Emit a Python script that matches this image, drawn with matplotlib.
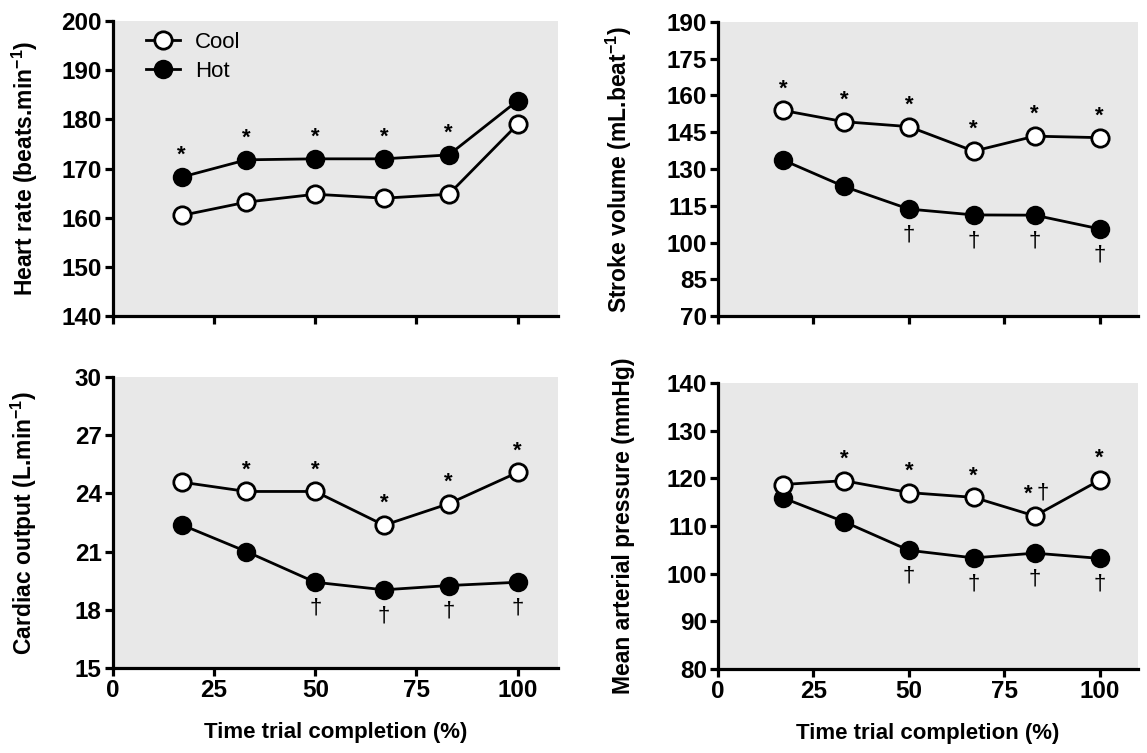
import matplotlib
matplotlib.use("Agg")
import matplotlib.pyplot as plt
import numpy as np

plt.rcParams['font.family'] = ['Liberation Sans', 'DejaVu Sans']
plt.rcParams['mathtext.fontset'] = 'custom'
plt.rcParams['mathtext.rm'] = 'Liberation Sans:bold'
plt.rcParams['mathtext.bf'] = 'Liberation Sans:bold'

# time trial completion (%)
x = [17, 33, 50, 67, 83, 100]

hr_cool = [160.5, 163.2, 164.8, 164.0, 164.8, 179.0]
hr_hot = [168.3, 171.8, 172.0, 172.0, 172.8, 183.8]

sv_cool = [153.9, 149.3, 147.3, 137.3, 143.4, 142.8]
sv_hot = [133.7, 122.9, 113.7, 111.3, 111.2, 105.6]

co_cool = [24.58, 24.1, 24.1, 22.36, 23.47, 25.08]
co_hot = [22.38, 21.0, 19.42, 19.03, 19.25, 19.42]

map_cool = [118.7, 119.5, 117.0, 116.0, 112.1, 119.6]
map_hot = [115.9, 110.9, 104.9, 103.3, 104.3, 103.2]

panels = [
    dict(cool=hr_cool, hot=hr_hot, ylim=(140, 200), yticks=np.arange(140, 201, 10),
         ylabel=r'Heart rate (beats.min$^{-1}$)', labx=-0.164,
         star_cool=[], star_hot=[0, 1, 2, 3, 4], dagger=[], pos=[0.0985, 0.580, 0.388, 0.392]),
    dict(cool=sv_cool, hot=sv_hot, ylim=(70, 190), yticks=np.arange(70, 191, 15),
         ylabel=r'Stroke volume (mL.beat$^{-1}$)', labx=-0.2,
         star_cool=[0, 1, 2, 3, 4, 5], star_hot=[], dagger=[2, 3, 4, 5], pos=[0.626, 0.580, 0.366, 0.391]),
    dict(cool=co_cool, hot=co_hot, ylim=(15, 30), yticks=np.arange(15, 31, 3),
         ylabel=r'Cardiac output (L.min$^{-1}$)', labx=-0.166,
         star_cool=[1, 2, 3, 4, 5], star_hot=[], dagger=[2, 3, 4, 5], pos=[0.0985, 0.1129, 0.388, 0.3864]),
    dict(cool=map_cool, hot=map_hot, ylim=(80, 140), yticks=np.arange(80, 141, 10),
         ylabel='Mean arterial pressure (mmHg)', labx=-0.198,
         star_cool=[1, 2, 3, 5], star_hot=[], dagger=[2, 3, 4, 5], pos=[0.626, 0.1116, 0.366, 0.3798]),
]
# extra "* †" mark above the cool point at 83 % in the pressure panel
map_star_dagger = [4]

fig = plt.figure(figsize=(11.47, 7.53), dpi=100)

for i, p in enumerate(panels):
    ax = fig.add_axes(p['pos'])
    ax.set_facecolor('#e8e8e8')
    ax.plot(x, p['hot'], '-o', color='black', lw=2, ms=12.5, mfc='black', mec='black', mew=1.5, label='Hot', zorder=3)
    ax.plot(x, p['cool'], '-o', color='black', lw=2, ms=12.5, mfc='white', mec='black', mew=2, label='Cool', zorder=4)
    ax.set_xlim(0, 110)
    ax.set_ylim(*p['ylim'])
    ax.set_yticks(p['yticks'])
    ax.set_xticks([0, 25, 50, 75, 100])
    for s in ['top', 'right']:
        ax.spines[s].set_visible(False)
    for s in ['left', 'bottom']:
        ax.spines[s].set_linewidth(2.3)
    ax.tick_params(width=2.3, length=6, pad=2, labelsize=17.5)
    for lab in ax.get_yticklabels() + ax.get_xticklabels():
        lab.set_fontweight('bold')
    ax.set_ylabel(p['ylabel'], fontsize=16.5, fontweight='bold')
    ax.yaxis.set_label_coords(p['labx'], 0.5)
    if i < 2:
        ax.tick_params(axis='x', labelbottom=False)
    else:
        ax.set_xlabel('Time trial completion (%)', fontsize=16, fontweight='bold', labelpad=14)

    for j in p['star_cool']:
        ax.annotate('*', (x[j], p['cool'][j]), xytext=(0, 8), textcoords='offset points',
                    ha='center', va='bottom', fontsize=16, fontweight='bold')
    for j in p['star_hot']:
        ax.annotate('*', (x[j], p['hot'][j]), xytext=(0, 8), textcoords='offset points',
                    ha='center', va='bottom', fontsize=16, fontweight='bold')
    for j in p['dagger']:
        ax.annotate('\u2020', (x[j], p['hot'][j]), xytext=(0, -11), textcoords='offset points',
                    ha='center', va='top', fontsize=16)
    if i == 3:
        for j in map_star_dagger:
            ax.annotate('*', (x[j], p['cool'][j]), xytext=(-5, 8), textcoords='offset points',
                        ha='center', va='bottom', fontsize=16, fontweight='bold')
            ax.annotate('\u2020', (x[j], p['cool'][j]), xytext=(6, 9), textcoords='offset points',
                        ha='center', va='bottom', fontsize=16)
    if i == 0:
        h, l = ax.get_legend_handles_labels()
        ax.legend(h[::-1], l[::-1], loc='upper left', frameon=False, fontsize=16,
                  handlelength=1.5, handletextpad=0.7, borderaxespad=0.1, labelspacing=0.35,
                  bbox_to_anchor=(0.05, 1.0))

fig.savefig('out.png', dpi=100)
